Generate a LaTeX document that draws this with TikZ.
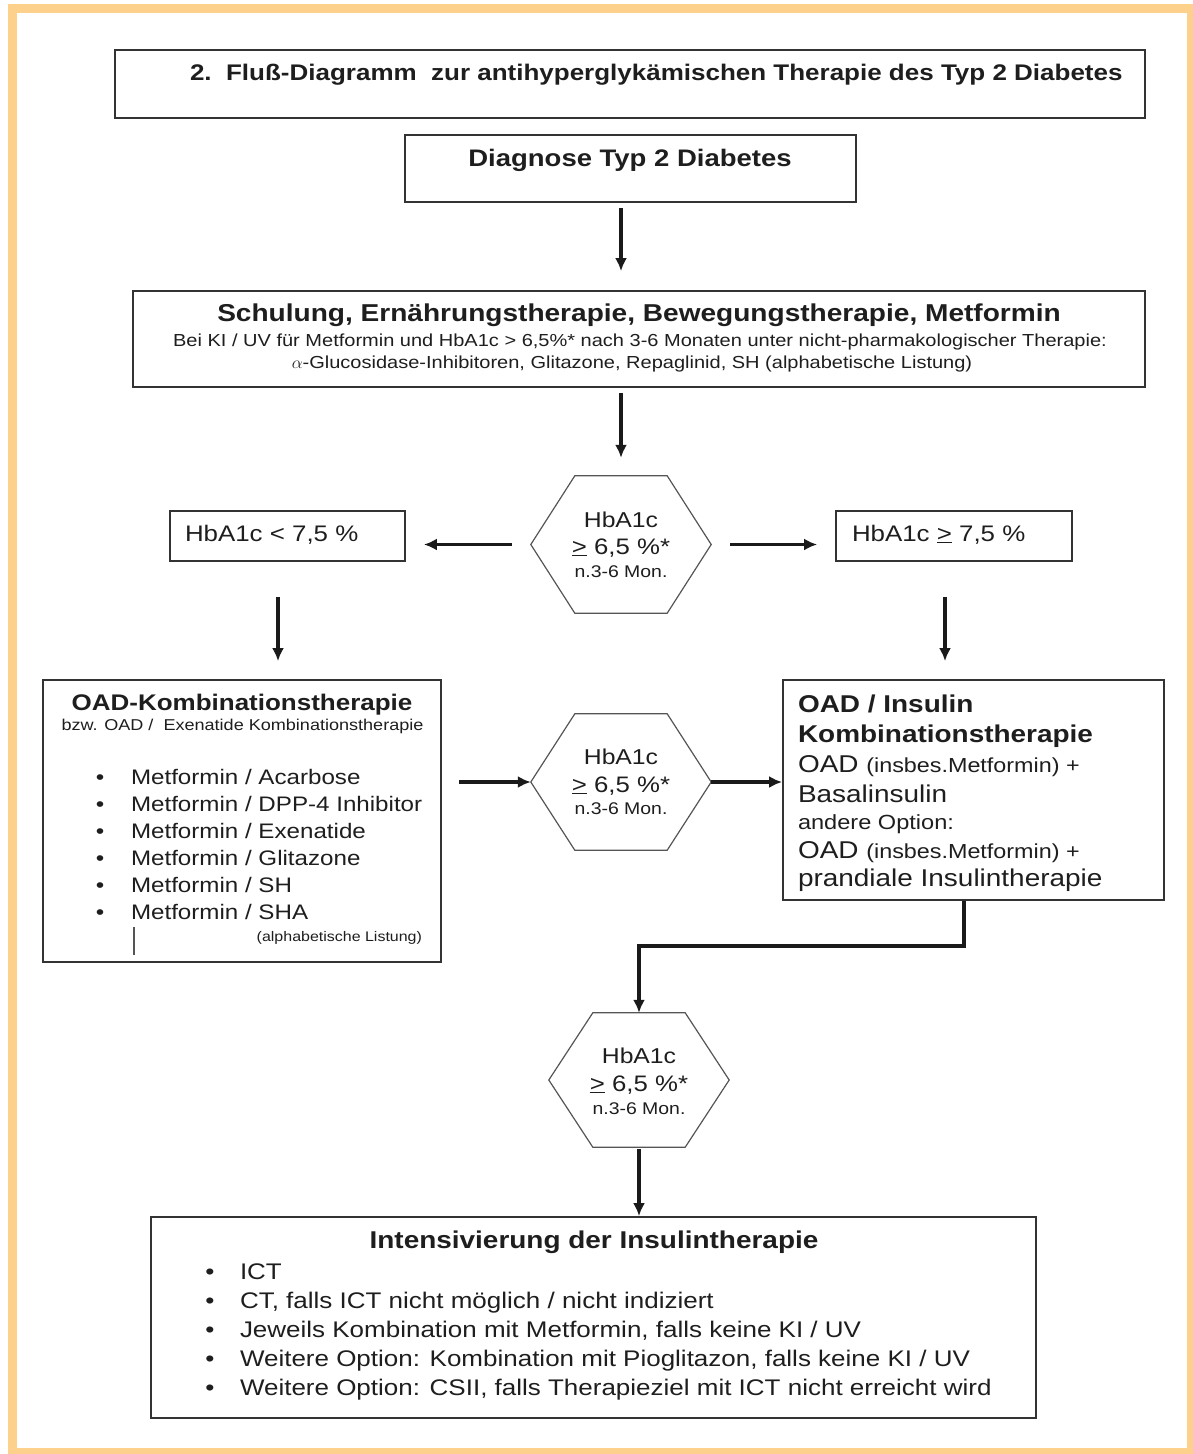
\documentclass[tikz,border=0pt]{standalone}
\usepackage{fontspec}
\setmainfont{Liberation Sans}[FakeStretch=1.15]
\usetikzlibrary{arrows.meta,calc}
\definecolor{frameor}{HTML}{FDD18C}
\definecolor{boxline}{HTML}{333333}
\definecolor{hexcol}{HTML}{555555}
\definecolor{txt}{HTML}{1E1E1E}
\definecolor{arrcol}{HTML}{1A1A1A}
\newcommand\fsz[1]{\fontsize{#1}{#1}\selectfont}
\newcommand\hexdraw[1]{\draw[hexline] (#1.west) -- ($(#1.north west)+(44,0)$) -- ($(#1.north east)+(-44,0)$) -- (#1.east) -- ($(#1.south east)+(-44,0)$) -- ($(#1.south west)+(44,0)$) -- cycle;}
\begin{document}
\begin{tikzpicture}[x=1pt,y=-1pt,
  box/.style={draw=boxline,line width=1.8pt,inner sep=0pt,fill=white},
  hexbox/.style={inner sep=0pt,minimum width=180pt},
  hexline/.style={draw=hexcol,line width=1.2pt},
  lbl/.style={inner sep=0pt,outer sep=0pt,anchor=base,text=txt},
  lblw/.style={lbl,anchor=base west},
  lble/.style={lbl,anchor=base east},
  arr/.style={draw=arrcol,line width=3.2pt,-{Latex[length=13pt,width=12pt]}},
]
\useasboundingbox (0,0) rectangle (1192,1454);
\fill[white] (0,0) rectangle (1192,1454);
\draw[frameor,line width=9pt] (12.5,8.5) rectangle (1191,1452);

% boxes
\node[box,minimum width=1030pt,minimum height=68pt] (title) at (630,84) {};
\node[box,minimum width=451pt,minimum height=67pt] (diag) at (630.5,168.5) {};
\node[box,minimum width=1012pt,minimum height=96pt] (schul) at (639,339) {};
\node[box,minimum width=235pt,minimum height=50pt] (lowbox) at (287.5,536) {};
\node[box,minimum width=236pt,minimum height=50pt] (highbox) at (954,536) {};
\node[box,minimum width=398pt,minimum height=282pt] (oad) at (242,821) {};
\node[box,minimum width=381pt,minimum height=220pt] (ins) at (973.5,790) {};
\node[box,minimum width=885pt,minimum height=201pt] (intens) at (593.5,1317.5) {};

% hexagons
\node[hexbox,minimum height=137pt] (hex1) at (621,544.5) {};
\node[hexbox,minimum height=136pt] (hex2) at (621,782) {};
\node[hexbox,minimum height=134pt] (hex3) at (639,1080) {};
\hexdraw{hex1}
\hexdraw{hex2}
\hexdraw{hex3}

% title
\node[lblw,font=\bfseries\fsz{22.6}] (titlet) at (190,80) {2.\ \ Fluß-Diagramm\ \ zur antihyperglykämischen Therapie des Typ 2 Diabetes};
\node[lbl,font=\bfseries\fsz{23.9}] (diagt) at (630,166) {Diagnose Typ 2 Diabetes};

% Schulung
\node[lbl,font=\bfseries\fsz{24.4}] (schul1) at (639,321) {Schulung, Ernährungstherapie, Bewegungstherapie, Metformin};
\node[lbl,font=\fsz{17.4}] (schul2) at (640,346) {Bei KI / UV für Metformin und HbA1c > 6,5\%* nach 3-6 Monaten unter nicht-pharmakologischer Therapie:};
\node[lbl,font=\fsz{17.4}] (schul3) at (632,368) {$\alpha$-Glucosidase-Inhibitoren, Glitazone, Repaglinid, SH (alphabetische Listung)};

% hexagon texts
\node[lbl,font=\fsz{21.5}] (h1a) at (621,527) {HbA1c};
\node[lbl,font=\fsz{22.4}] (h1b) at (621,554) {\underline{>} 6,5 \%*};
\node[lbl,font=\fsz{16.9}] (h1c) at (621,577) {n.3-6 Mon.};
\node[lbl,font=\fsz{21.5}] (h2a) at (621,764.5) {HbA1c};
\node[lbl,font=\fsz{22.4}] (h2b) at (621,792) {\underline{>} 6,5 \%*};
\node[lbl,font=\fsz{16.9}] (h2c) at (621,814) {n.3-6 Mon.};
\node[lbl,font=\fsz{21.5}] (h3a) at (639,1063) {HbA1c};
\node[lbl,font=\fsz{22.4}] (h3b) at (639,1091) {\underline{>} 6,5 \%*};
\node[lbl,font=\fsz{16.9}] (h3c) at (639,1114) {n.3-6 Mon.};

% decision boxes
\node[lblw,font=\fsz{22.5}] (lowt) at (185,541) {HbA1c < 7,5 \%};
\node[lblw,font=\fsz{22.5}] (hight) at (852,541) {HbA1c \underline{>} 7,5 \%};

% OAD box
\node[lbl,font=\bfseries\fsz{22.6}] (oadt) at (242,710) {OAD-Kombinationstherapie};
\node[lbl,font=\fsz{15.7}] (oads) at (242.5,730.5) {bzw. OAD /\ \ Exenatide Kombinationstherapie};
\foreach \y/\t [count=\i] in {784/Acarbose,811/DPP-4 Inhibitor,838/Exenatide,865/Glitazone,892/SH,919/SHA}{
  \node[lbl,font=\fsz{21}] (oadb\i) at (100,\y) {\textbullet};
  \node[lblw,font=\fsz{21}] (oadi\i) at (131,\y) {Metformin / \t};
}
\node[lble,font=\fsz{13.9}] (oadl) at (422,941) {(alphabetische Listung)};
\draw[hexcol,line width=1.4pt] (134,927) -- (134,955);

% OAD / Insulin box
\node[lblw,font=\bfseries\fsz{24.3}] (ins1) at (798,712) {OAD / Insulin};
\node[lblw,font=\bfseries\fsz{24.3}] (ins2) at (798,742) {Kombinationstherapie};
\node[lblw,font=\fsz{24.3}] (ins3) at (798,772) {OAD {\fsz{20.3}(insbes.Metformin) +}};
\node[lblw,font=\fsz{24.3}] (ins4) at (798,802) {Basalinsulin};
\node[lblw,font=\fsz{20.5}] (ins5) at (798,829) {andere Option:};
\node[lblw,font=\fsz{24.3}] (ins6) at (798,858) {OAD {\fsz{20.3}(insbes.Metformin) +}};
\node[lblw,font=\fsz{24.3}] (ins7) at (798,886) {prandiale Insulintherapie};

% Intensivierung box
\node[lbl,font=\bfseries\fsz{24.3}] (intt) at (594,1248) {Intensivierung der Insulintherapie};
\foreach \y/\t [count=\i] in {1279/ICT,1308/{CT, falls ICT nicht möglich / nicht indiziert},1337/{Jeweils Kombination mit Metformin, falls keine KI / UV},1366/{Weitere Option: Kombination mit Pioglitazon, falls keine KI / UV},1395/{Weitere Option: CSII, falls Therapieziel mit ICT nicht erreicht wird}}{
  \node[lbl,font=\fsz{22.6}] (intb\i) at (210,\y) {\textbullet};
  \node[lblw,font=\fsz{22.6}] (inti\i) at (240,\y) {\t};
}

% connectors
\draw[arr,shorten <=5pt,shorten >=19pt] (diag.south -| hex1.north) -- (schul.north -| hex1.north);
\draw[arr,shorten <=5pt,shorten >=18pt] (schul.south -| hex1.north) -- (hex1.north);
\draw[arr,shorten <=19pt,shorten >=18pt] (hex1.west) -- (lowbox.east |- hex1.west);
\draw[arr,shorten <=19pt,shorten >=18pt] (hex1.east) -- (highbox.west |- hex1.east);
\draw[arr,shorten <=35pt,shorten >=18pt] ([xshift=-9.5pt]lowbox.south) -- ([xshift=-9.5pt]lowbox.south |- oad.north);
\draw[arr,shorten <=35pt,shorten >=18pt] ([xshift=-9pt]highbox.south) -- ([xshift=-9pt]highbox.south |- ins.north);
\draw[arr,shorten <=17pt] (oad.east |- hex2.west) -- (hex2.west);
\draw[arr] (hex2.east) -- (ins.west |- hex2.east);
\draw[arr] ([xshift=-9.5pt]ins.south) -- ++(0,45) -| (hex3.north);
\draw[arr,shorten <=2pt] (hex3.south) -- (intens.north -| hex3.south);
\end{tikzpicture}
\end{document}
